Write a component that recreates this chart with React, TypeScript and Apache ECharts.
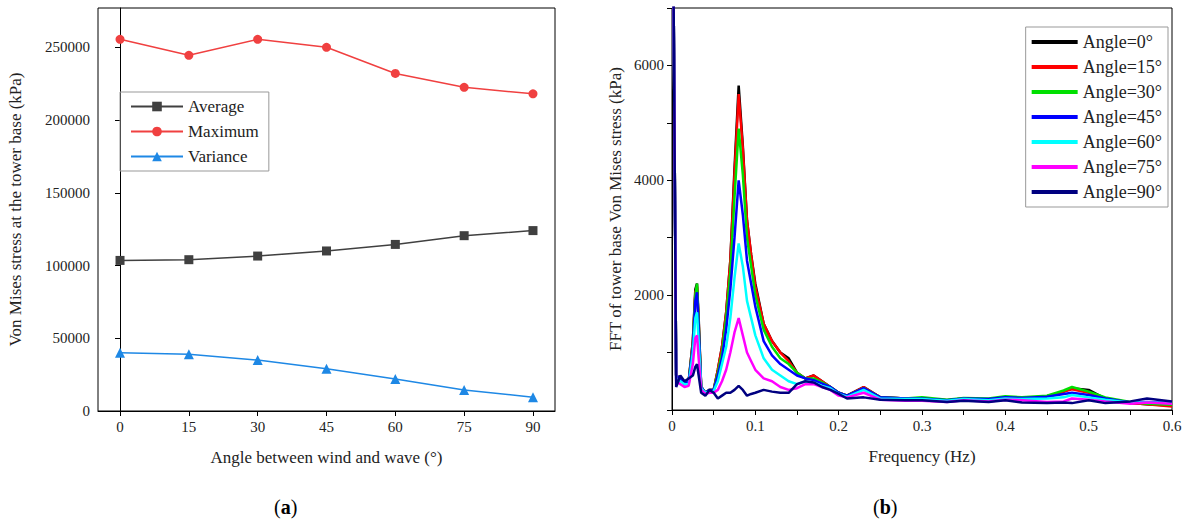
import * as echarts from "echarts";
import { useEffect, useRef } from "react";

const angles = [0, 15, 30, 45, 60, 75, 90];
const average = [103500, 104000, 106500, 110000, 114500, 120500, 124000];
const maximum = [255500, 244500, 255500, 250000, 232000, 222500, 218000];
const variance = [40000, 39000, 35000, 29000, 22000, 14500, 9500];

const freq = [
  0, 0.002, 0.005, 0.01, 0.015, 0.02, 0.025, 0.028, 0.03, 0.032, 0.035, 0.04, 0.045, 0.05, 0.055, 0.06,
  0.065, 0.07, 0.075, 0.08, 0.085, 0.09, 0.095, 0.1, 0.11, 0.12, 0.13, 0.14, 0.15, 0.16, 0.17, 0.18,
  0.19, 0.2, 0.21, 0.23, 0.25, 0.28, 0.3, 0.33, 0.35, 0.38, 0.4, 0.42, 0.45, 0.47, 0.48, 0.5, 0.52,
  0.55, 0.57, 0.6,
];
const fft0 = [
  9000, 7000, 600, 550, 450, 500, 1200, 2100, 2200, 1600, 400, 300, 350, 350, 700, 1100, 1700, 2600,
  4200, 5650, 4600, 3300, 2700, 2200, 1500, 1200, 1000, 900, 650, 550, 600, 500, 400, 300, 250, 400, 220,
  200, 200, 170, 200, 180, 220, 200, 240, 320, 380, 350, 200, 120, 100, 80,
];
const fft15 = [
  9000, 7000, 600, 550, 450, 500, 1200, 2050, 2150, 1550, 400, 300, 350, 350, 700, 1100, 1700, 2600,
  4100, 5500, 4550, 3300, 2700, 2150, 1500, 1200, 1000, 850, 650, 550, 600, 500, 400, 300, 250, 400, 220,
  200, 200, 170, 200, 180, 220, 200, 240, 320, 360, 300, 200, 120, 100, 60,
];
const fft30 = [
  9000, 7000, 600, 550, 450, 500, 1150, 2000, 2200, 1500, 400, 300, 350, 350, 650, 1000, 1600, 2400,
  3700, 4900, 4100, 3000, 2500, 2000, 1400, 1100, 900, 800, 650, 550, 550, 480, 400, 300, 250, 380, 220,
  200, 220, 180, 210, 200, 240, 220, 250, 340, 400, 320, 220, 140, 110, 90,
];
const fft45 = [
  9000, 7000, 600, 550, 450, 500, 1100, 1900, 2050, 1450, 400, 300, 350, 350, 600, 900, 1400, 2100,
  3000, 4000, 3400, 2600, 2200, 1800, 1200, 950, 800, 700, 600, 550, 520, 460, 400, 300, 250, 380, 220,
  200, 200, 170, 200, 190, 220, 210, 230, 280, 300, 260, 200, 130, 140, 120,
];
const fft60 = [
  9000, 7000, 550, 500, 450, 450, 1000, 1600, 1700, 1200, 380, 300, 320, 330, 500, 800, 1100, 1600,
  2300, 2900, 2500, 1900, 1600, 1300, 900, 700, 600, 500, 450, 500, 480, 420, 380, 280, 230, 350, 200,
  190, 190, 160, 190, 170, 200, 190, 200, 220, 260, 220, 180, 130, 130, 120,
];
const fft75 = [
  9000, 7000, 500, 450, 400, 420, 800, 1250, 1300, 900, 350, 280, 300, 300, 350, 500, 700, 1000,
  1350, 1600, 1300, 1000, 850, 700, 550, 500, 400, 350, 380, 450, 450, 400, 350, 250, 220, 300, 180,
  160, 160, 140, 170, 150, 180, 170, 140, 150, 200, 180, 150, 110, 130, 110,
];
const fft90 = [
  9000, 7000, 400, 600, 500, 550, 600, 750, 800, 600, 300, 250, 350, 300, 200, 250, 300, 300, 350, 420,
  350, 250, 280, 300, 350, 320, 300, 300, 450, 500, 480, 400, 350, 280, 200, 220, 180, 170, 170, 140,
  160, 140, 170, 130, 120, 130, 120, 170, 120, 150, 200, 150,
];

const fftSeries = [
  { name: "Angle=0°", color: "#000000", data: fft0 },
  { name: "Angle=15°", color: "#ff0000", data: fft15 },
  { name: "Angle=30°", color: "#00e000", data: fft30 },
  { name: "Angle=45°", color: "#0000ff", data: fft45 },
  { name: "Angle=60°", color: "#00ffff", data: fft60 },
  { name: "Angle=75°", color: "#ff00ff", data: fft75 },
  { name: "Angle=90°", color: "#000080", data: fft90 },
];

const FONT = "Liberation Serif";
const INK = "#222";

export default function App() {
  const ref = useRef<HTMLDivElement>(null);

  useEffect(() => {
    const el = ref.current;
    if (!el) return;
    const chart = echarts.init(el, null, { renderer: "svg" });
    const axisLine = { show: true, lineStyle: { color: "#000", width: 1 } };
    const label = { color: INK, fontSize: 15, fontFamily: FONT };
    const nameStyle = { color: INK, fontSize: 17, fontFamily: FONT };
    chart.setOption({
      animation: false,
      textStyle: { fontFamily: FONT },
      grid: [
        { left: 98, right: 637, top: 8, bottom: 119, show: true, borderColor: "#000", backgroundColor: "transparent" },
        { left: 672, right: 20, top: 8, bottom: 120, show: true, borderColor: "#000", backgroundColor: "transparent" },
      ],
      legend: [
        {
          data: ["Average", "Maximum", "Variance"],
          left: 120,
          top: 92,
          orient: "vertical",
          itemGap: 8,
          itemWidth: 52,
          itemHeight: 12,
          borderColor: "#999",
          borderWidth: 1,
          padding: [6, 10],
          textStyle: { fontSize: 17, fontFamily: FONT, color: INK },
        },
        {
          data: fftSeries.map((s) => s.name),
          right: 24,
          top: 27,
          orient: "vertical",
          itemGap: 7,
          itemWidth: 46,
          itemHeight: 4,
          icon: "rect",
          borderColor: "#999",
          borderWidth: 1,
          padding: [6, 6],
          textStyle: { fontSize: 18, fontFamily: FONT, color: INK },
        },
      ],
      xAxis: [
        {
          gridIndex: 0,
          type: "value",
          min: -4.8,
          max: 94.8,
          axisLine,
          splitLine: { show: false },
          axisTick: { customValues: angles, length: 5 },
          axisLabel: { ...label, customValues: angles },
          name: "Angle between wind and wave (°)",
          nameLocation: "middle",
          nameGap: 38,
          nameTextStyle: nameStyle,
        },
        {
          gridIndex: 1,
          type: "value",
          min: 0,
          max: 0.6,
          interval: 0.05,
          axisLine,
          splitLine: { show: false },
          axisTick: { length: 5 },
          axisLabel: {
            ...label,
            formatter: (v: number) => (Math.round(v * 100) % 10 === 0 ? String(Math.round(v * 10) / 10) : ""),
          },
          name: "Frequency (Hz)",
          nameLocation: "middle",
          nameGap: 38,
          nameTextStyle: nameStyle,
        },
      ],
      yAxis: [
        {
          gridIndex: 0,
          type: "value",
          min: 0,
          max: 277000,
          interval: 50000,
          axisLine,
          splitLine: { show: false },
          axisTick: { show: true, length: 5 },
          axisLabel: { ...label, showMaxLabel: false, formatter: (v: number) => String(v) },
          name: "Von Mises stress at the tower base (kPa)",
          nameLocation: "middle",
          nameGap: 74,
          nameTextStyle: nameStyle,
        },
        {
          gridIndex: 1,
          type: "value",
          min: 0,
          max: 7000,
          interval: 1000,
          axisLine,
          splitLine: { show: false },
          axisTick: { show: true, length: 5 },
          axisLabel: { ...label, formatter: (v: number) => (v > 0 && v % 2000 === 0 ? String(v) : "") },
          name: "FFT of tower base Von Mises stress (kPa)",
          nameLocation: "middle",
          nameGap: 48,
          nameTextStyle: nameStyle,
        },
      ],
      series: [
        { name: "Average", data: average, color: "#404040", symbol: "rect", symbolSize: 9 },
        { name: "Maximum", data: maximum, color: "#f04040", symbol: "circle", symbolSize: 9 },
        { name: "Variance", data: variance, color: "#1e88e5", symbol: "triangle", symbolSize: 10 },
      ]
        .map((s) => ({
          ...s,
          type: "line",
          xAxisIndex: 0,
          yAxisIndex: 0,
          data: s.data.map((v, i) => [angles[i], v]),
          lineStyle: { width: 1.5 },
        }))
        .concat(
          fftSeries.map((s) => ({
            name: s.name,
            type: "line",
            xAxisIndex: 1,
            yAxisIndex: 1,
            color: s.color,
            showSymbol: false,
            symbol: "none",
            data: s.data.map((v, i) => [freq[i], v]),
            lineStyle: { width: 2.5 },
          })) as any,
        ),
      graphic: [
        {
          type: "text",
          left: 274,
          top: 497,
          style: {
            text: "({a|a})",
            rich: { a: { fontWeight: "bold", fontSize: 20, fontFamily: FONT } },
            fontSize: 20,
            fontFamily: FONT,
            fill: "#000",
          },
        },
        {
          type: "text",
          left: 873,
          top: 497,
          style: {
            text: "({a|b})",
            rich: { a: { fontWeight: "bold", fontSize: 20, fontFamily: FONT } },
            fontSize: 20,
            fontFamily: FONT,
            fill: "#000",
          },
        },
      ],
    } as any);
    return () => chart.dispose();
  }, []);

  return (
    <div
      ref={ref}
      style={{ position: "fixed", left: 0, top: 0, width: 1192, height: 530, background: "#fff" }}
    />
  );
}
